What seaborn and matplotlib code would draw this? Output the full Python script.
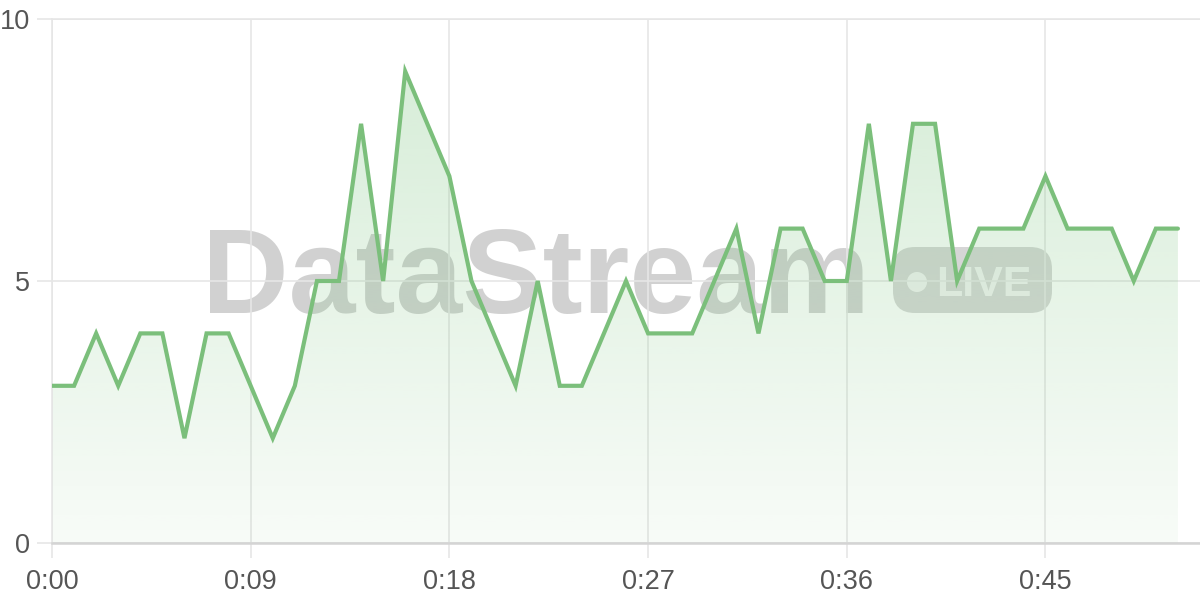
import numpy as np
import matplotlib
matplotlib.use("Agg")
import matplotlib.pyplot as plt
import seaborn as sns
from matplotlib.patches import FancyBboxPatch, Circle

# ---- data ----
seconds = list(range(52))
values = [3, 3, 4, 3, 4, 4, 2, 4, 4, 3,
          2, 3, 5, 5, 8, 5, 9, 8, 7, 5,
          4, 3, 5, 3, 3, 4, 5, 4, 4, 4,
          5, 6, 4, 6, 6, 5, 5, 8, 5, 8,
          8, 5, 6, 6, 6, 7, 6, 6, 6, 5,
          6, 6]
x_ticks = [0, 9, 18, 27, 36, 45]
x_tick_labels = ["0:00", "0:09", "0:18", "0:27", "0:36", "0:45"]
y_ticks = [0, 5, 10]
y_tick_labels = ["0", "5", "10"]
watermark_text = "DataStream"
badge_text = "LIVE"

# ---- style ----
sns.set_theme(style="white")
plt.rcParams["font.family"] = ["Liberation Sans", "DejaVu Sans"]

line_color = "#7bbf7b"
fill_rgb = np.array([129, 199, 132]) / 255.0
grid_color = "#e6e6e6"
label_color = "#555555"

fig = plt.figure(figsize=(12, 6), dpi=100, facecolor="white")

# watermark layer (pixel coordinates, below the chart)
wm = fig.add_axes([0, 0, 1, 1], zorder=0)
wm.set_xlim(0, 1200)
wm.set_ylim(600, 0)
wm.axis("off")
wm.text(202, 313, watermark_text, ha="left", va="baseline", fontsize=86.5,
        fontweight="bold", color="#9a9a9a", alpha=0.45)
wm.add_patch(FancyBboxPatch((893, 247), 159, 66,
                            boxstyle="round,pad=0,rounding_size=22",
                            facecolor="#9a9a9a", edgecolor="none", alpha=0.40))
wm.add_patch(Circle((917, 282), 10, facecolor="white", edgecolor="none", alpha=0.7))
wm.text(936, 296, badge_text, ha="left", va="baseline", fontsize=31,
        fontweight="bold", color="white", alpha=0.7)

# main chart
ax = fig.add_axes([52 / 1200, 57 / 600, 1148 / 1200, 524 / 600], zorder=1)
ax.patch.set_alpha(0)

poly = ax.fill_between(seconds, values, 0, color="none", linewidth=0)
grad = np.zeros((256, 1, 4))
grad[..., :3] = fill_rgb
grad[..., 3] = np.linspace(0.06, 0.34, 256)[:, None]
im = ax.imshow(grad, extent=[0, seconds[-1], 0, 10], origin="lower",
               aspect="auto", zorder=1, interpolation="bilinear")
im.set_clip_path(poly.get_paths()[0], transform=ax.transData)

sns.lineplot(x=seconds, y=values, ax=ax, color=line_color, linewidth=3.0,
             zorder=3, solid_joinstyle="miter")

ax.set_xlim(0, 52)
ax.set_ylim(0, 10)
ax.set_xticks(x_ticks)
ax.set_xticklabels(x_tick_labels)
ax.set_yticks(y_ticks)
ax.set_yticklabels(y_tick_labels)
ax.set_xlabel("")
ax.set_ylabel("")

ax.grid(True, color=grid_color, linewidth=1.2)
ax.set_axisbelow(True)
ax.tick_params(axis="both", bottom=True, left=True, length=11, width=1.2,
               color=grid_color, labelsize=19.5, labelcolor=label_color)
ax.tick_params(axis="x", pad=8)
ax.tick_params(axis="y", pad=5)

for side in ["top", "left"]:
    ax.spines[side].set_color(grid_color)
    ax.spines[side].set_linewidth(1.2)
ax.spines["right"].set_visible(False)
ax.spines["bottom"].set_color("#d4d4d4")
ax.spines["bottom"].set_linewidth(1.8)

fig.savefig("out.png", dpi=100, facecolor="white")
